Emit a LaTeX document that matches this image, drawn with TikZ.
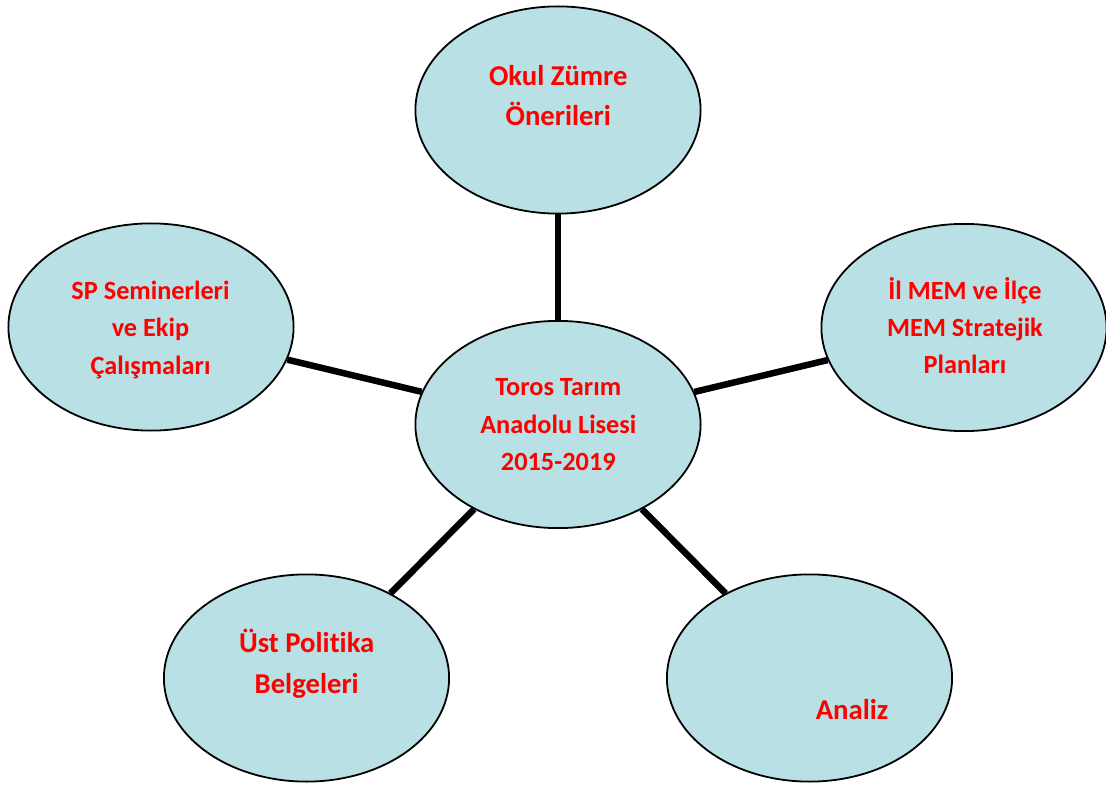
\documentclass[tikz,border=0pt]{standalone}
\usepackage{fontspec}
\setmainfont{Carlito}[Ligatures={NoCommon}]
\usetikzlibrary{shapes.geometric}
\definecolor{ellfill}{RGB}{185,224,228}
\definecolor{txtred}{RGB}{255,0,0}
\newcommand\lstrut{\rule[-0.3em]{0pt}{1.2em}}
\begin{document}
\begin{tikzpicture}[x=1pt,y=-1pt,
  bubble/.style={ellipse, draw=black, line width=1.8pt, fill=ellfill,
    minimum width=285.2pt, minimum height=207.2pt, inner sep=0pt},
  link/.style={draw=black, line width=6.5pt},
  bigtxt/.style={text=txtred, align=center, inner sep=0pt,
    font=\fontsize{28.7}{40.7}\selectfont\bfseries},
  smalltxt/.style={text=txtred, align=center, inner sep=0pt,
    font=\fontsize{26.3}{37.3}\selectfont\bfseries}]
\useasboundingbox (0,0) rectangle (1106,786);
% bubbles
\node[bubble] (top)    at (558,110)   {};
\node[bubble] (center) at (558,424.5) {};
\node[bubble] (left)   at (151,327)   {};
\node[bubble] (right)  at (964,327.5) {};
\node[bubble] (bl)     at (306.5,678) {};
\node[bubble] (br)     at (809.5,678) {};
% connectors
\draw[link] (top) -- (center);
\draw[link] (left) -- (center);
\draw[link] (right) -- (center);
\draw[link] (bl) -- (center);
\draw[link] (br) -- (center);
% texts
\node[bigtxt]   (ttop)    at (558.3,96.9)  {\lstrut Okul Zümre\\\lstrut Önerileri};
\node[smalltxt] (tcenter) at (558.3,425.4) {\lstrut Toros Tarım\\\lstrut Anadolu Lisesi\\\lstrut 2015-2019};
\node[smalltxt] (tleft)   at (150.5,329.1) {\lstrut SP Seminerleri\\\lstrut ve Ekip\\\lstrut Çalışmaları};
\node[smalltxt] (tright)  at (965,328.6)   {\lstrut İl MEM ve İlçe\\\lstrut MEM Stratejik\\\lstrut Planları};
\node[bigtxt]   (tbl)     at (306.7,664.4) {\lstrut Üst Politika\\\lstrut Belgeleri};
\node[bigtxt]   (tbr)     at (852,710.7)   {\lstrut Analiz};
\end{tikzpicture}
\end{document}
